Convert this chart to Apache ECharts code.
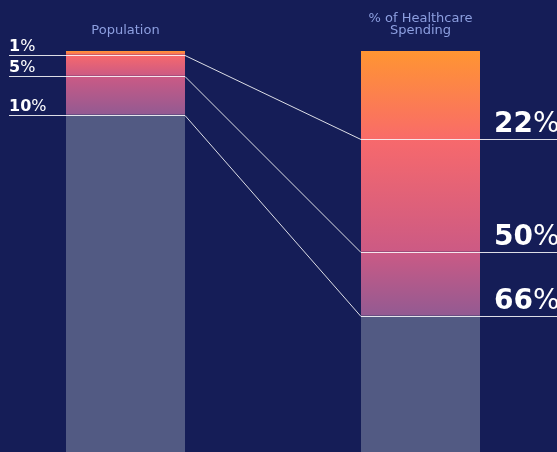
<!DOCTYPE html>
<html><head><meta charset="utf-8">
<script src="https://cdn.jsdelivr.net/npm/echarts@6/dist/echarts.min.js"></script>
<style>html,body{margin:0;padding:0;background:#151d57;overflow:hidden}#c{width:557px;height:452px}</style>
</head><body><div id="c"></div>
<script>
// ---- data ----
const categories = ['Population', '% of Healthcare Spending'];
const popLabels = ['1', '5', '10'];           // label numbers (shown with %)
const popLevels = [0.6, 3.9, 10];             // where the marker lines sit on the population bar
const popAxisMax = 63;                        // visible part of the population bar
const spendLabels = ['22', '50', '66'];
const spendLevels = [22, 50, 66];
const spendAxisMax = 100;

// segment gradients (top colour, bottom colour) for each marker band
const segColors = [
  ['#ff9532', '#f96b69'],
  ['#f7696c', '#cc5a84'],
  ['#cb5a85', '#935a92']
];
const restColor = '#525a83';
const barWidth = 119;

function segs(levels, max) {
  const out = [];
  let prev = 0;
  levels.forEach(l => { out.push(l - prev); prev = l; });
  out.push(max - prev);
  return out;
}
function grad(c) {
  return new echarts.graphic.LinearGradient(0, 0, 0, 1, [{offset: 0, color: c[0]}, {offset: 1, color: c[1]}]);
}

const popSegs = segs(popLevels, popAxisMax);
const spendSegs = segs(spendLevels, spendAxisMax);

const series = [];
popSegs.forEach((v, i) => {
  series.push({
    type: 'bar', stack: 'pop', yAxisIndex: 0, barWidth: barWidth, barGap: '-100%',
    data: [v, '-'], silent: true,
    itemStyle: {color: i < segColors.length ? grad(segColors[i]) : restColor}
  });
});
spendSegs.forEach((v, i) => {
  series.push({
    type: 'bar', stack: 'spend', yAxisIndex: 1, barWidth: barWidth, barGap: '-100%',
    data: ['-', v], silent: true,
    itemStyle: {color: i < segColors.length ? grad(segColors[i]) : restColor}
  });
});

const chart = echarts.init(document.getElementById('c'), null, {renderer: 'canvas'});
chart.setOption({
  backgroundColor: '#151d57',
  animation: false,
  grid: {left: 125.5, right: 136.5, top: 51, height: 403, containLabel: false},
  xAxis: {
    type: 'category', data: categories, position: 'top', boundaryGap: false,
    axisLine: {show: false}, axisTick: {show: false},
    axisLabel: {
      color: '#8d9fe0', fontSize: 13, fontFamily: 'DejaVu Sans', margin: 14, lineHeight: 12,
      formatter: v => v.replace('Healthcare ', 'Healthcare\n')
    }
  },
  yAxis: [
    {type: 'value', inverse: true, min: 0, max: popAxisMax, show: false},
    {type: 'value', inverse: true, min: 0, max: spendAxisMax, show: false}
  ],
  series: series
});

// connecting lines and labels, positioned through the chart's own scales
const xl = chart.convertToPixel({xAxisIndex: 0}, categories[0]) + barWidth / 2;
const xr = chart.convertToPixel({xAxisIndex: 0}, categories[1]) - barWidth / 2;
const xrEnd = xr + barWidth;
const W = chart.getWidth();
const rich = (size) => ({
  b: {fontSize: size, fontWeight: 'bold', fontFamily: 'DejaVu Sans', fill: '#ffffff', color: '#ffffff'},
  n: {fontSize: size, fontWeight: 'normal', fontFamily: 'DejaVu Sans', fill: '#ffffff', color: '#ffffff'}
});
const graphics = [];
popLevels.forEach((lvl, i) => {
  const yl = Math.round(chart.convertToPixel({yAxisIndex: 0}, lvl)) + 0.5;
  const yr = Math.round(chart.convertToPixel({yAxisIndex: 1}, spendLevels[i])) + 0.5;
  graphics.push({
    type: 'polyline', silent: true, z: 10,
    shape: {points: [[9, yl], [xl, yl], [xr, yr], [W, yr]]},
    style: {stroke: 'rgba(255,255,255,0.85)', lineWidth: 1, fill: null}
  });
  graphics.push({
    type: 'text', silent: true, z: 11, x: 9, y: yl - 1,
    style: {text: '{b|' + popLabels[i] + '}{n|%}', rich: rich(16), verticalAlign: 'bottom', align: 'left'}
  });
  graphics.push({
    type: 'text', silent: true, z: 11, x: xrEnd + 14, y: yr - 1,
    style: {text: '{b|' + spendLabels[i] + '}{n|%}', rich: rich(28), verticalAlign: 'bottom', align: 'left'}
  });
});
chart.setOption({graphic: graphics});
</script></body></html>
